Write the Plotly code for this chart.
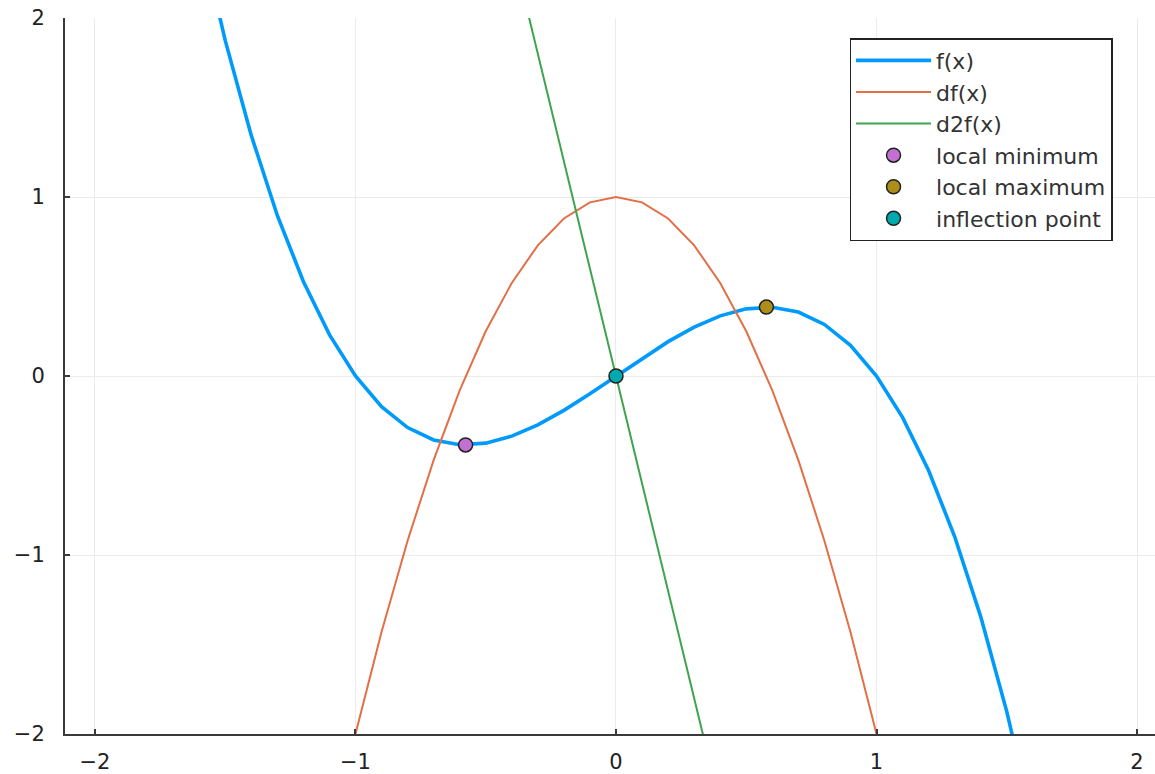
import plotly.graph_objects as go

# sample grid and function values: f(x) = x - x^3 and its derivatives
x_vals = [-2.0, -1.9, -1.8, -1.7, -1.6, -1.5, -1.4, -1.3, -1.2, -1.1, -1.0,
          -0.9, -0.8, -0.7, -0.6, -0.5, -0.4, -0.3, -0.2, -0.1, 0.0,
          0.1, 0.2, 0.3, 0.4, 0.5, 0.6, 0.7, 0.8, 0.9, 1.0,
          1.1, 1.2, 1.3, 1.4, 1.5, 1.6, 1.7, 1.8, 1.9, 2.0]
f_vals = [6.0, 4.959, 4.032, 3.213, 2.496, 1.875, 1.344, 0.897, 0.528, 0.231, 0.0,
          -0.171, -0.288, -0.357, -0.384, -0.375, -0.336, -0.273, -0.192, -0.099, 0.0,
          0.099, 0.192, 0.273, 0.336, 0.375, 0.384, 0.357, 0.288, 0.171, 0.0,
          -0.231, -0.528, -0.897, -1.344, -1.875, -2.496, -3.213, -4.032, -4.959, -6.0]
df_vals = [-11.0, -9.83, -8.72, -7.67, -6.68, -5.75, -4.88, -4.07, -3.32, -2.63, -2.0,
           -1.43, -0.92, -0.47, -0.08, 0.25, 0.52, 0.73, 0.88, 0.97, 1.0,
           0.97, 0.88, 0.73, 0.52, 0.25, -0.08, -0.47, -0.92, -1.43, -2.0,
           -2.63, -3.32, -4.07, -4.88, -5.75, -6.68, -7.67, -8.72, -9.83, -11.0]
d2f_vals = [12.0, 11.4, 10.8, 10.2, 9.6, 9.0, 8.4, 7.8, 7.2, 6.6, 6.0,
            5.4, 4.8, 4.2, 3.6, 3.0, 2.4, 1.8, 1.2, 0.6, 0.0,
            -0.6, -1.2, -1.8, -2.4, -3.0, -3.6, -4.2, -4.8, -5.4, -6.0,
            -6.6, -7.2, -7.8, -8.4, -9.0, -9.6, -10.2, -10.8, -11.4, -12.0]

# critical points
min_pt = (-0.5774, -0.3849)
max_pt = (0.5774, 0.3849)
infl_pt = (0.0, 0.0)

tick_vals = [-2, -1, 0, 1, 2]

FONT = "DejaVu Sans"
AXIS_COLOR = "#3a3a3a"
GRID_COLOR = "#ebebeb"

fig = go.Figure()
fig.add_trace(go.Scatter(x=x_vals, y=f_vals, mode="lines", name="f(x)",
                         line=dict(color="#009AFA", width=3.6)))
fig.add_trace(go.Scatter(x=x_vals, y=df_vals, mode="lines", name="df(x)",
                         line=dict(color="#E26F46", width=2)))
fig.add_trace(go.Scatter(x=x_vals, y=d2f_vals, mode="lines", name="d2f(x)",
                         line=dict(color="#3EA44E", width=2)))

for pt, name, color in [(min_pt, "local minimum", "#C271D2"),
                        (max_pt, "local maximum", "#AC8E18"),
                        (infl_pt, "inflection point", "#00A9AD")]:
    fig.add_trace(go.Scatter(x=[pt[0]], y=[pt[1]], mode="markers", name=name,
                             marker=dict(color=color, size=14,
                                         line=dict(color="#222222", width=1.5))))

axis_common = dict(
    tickvals=tick_vals,
    showgrid=True, gridcolor=GRID_COLOR, gridwidth=1,
    zeroline=False,
    showline=True, linecolor=AXIS_COLOR, linewidth=2,
    ticks="inside", ticklen=5, tickwidth=1.5, tickcolor=AXIS_COLOR,
    tickfont=dict(family=FONT, size=21, color="#222222"),
)

fig.update_xaxes(range=[-2.115, 2.069], ticklabelstandoff=8, **axis_common)
fig.update_yaxes(range=[-2, 2], ticklabelstandoff=14, **axis_common)

fig.update_layout(
    width=1155, height=774,
    margin=dict(l=65, r=0, t=18, b=35),
    plot_bgcolor="white", paper_bgcolor="white",
    font=dict(family=FONT, color="#222222"),
    legend=dict(
        x=0.8404, y=0.972, xanchor="center", yanchor="top",
        bgcolor="white", bordercolor="#222222", borderwidth=1.5,
        font=dict(family=FONT, size=22, color="#333333"),
        itemwidth=75,
        tracegroupgap=0,
    ),
    showlegend=True,
)

fig.write_html("out.html")
